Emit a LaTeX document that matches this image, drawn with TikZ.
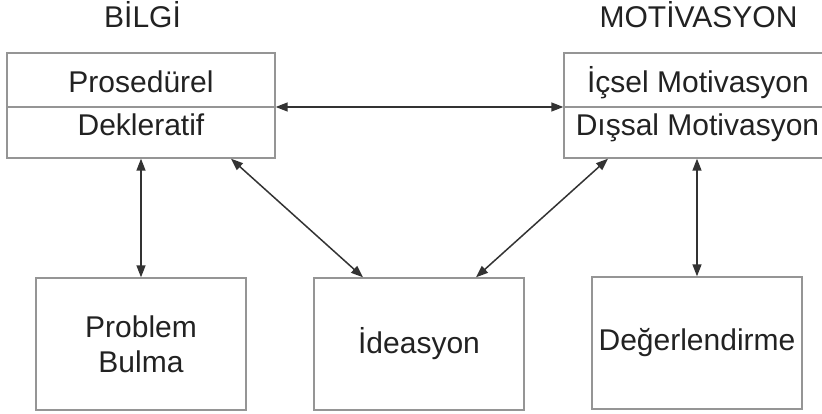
\documentclass[tikz,border=0pt]{standalone}
\usepackage{fontspec}
\setmainfont{Liberation Sans}
\usetikzlibrary{arrows.meta}
\definecolor{boxgray}{HTML}{959595}
\definecolor{arrowdark}{HTML}{333333}
\definecolor{textdark}{HTML}{222222}
\tikzset{
  outerbox/.style={draw=boxgray, line width=1.4pt, rectangle, inner sep=0pt},
  txt/.style={text=textdark, font=\fontsize{30}{35}\selectfont, inner sep=0pt},
  conn/.style={draw=arrowdark, line width=1.5pt, {Triangle[length=12pt,width=9pt]}-{Triangle[length=12pt,width=9pt]}},
}
\begin{document}
\begin{tikzpicture}[x=1pt,y=-1pt]
\useasboundingbox (0,0) rectangle (822,414);
\fill[white] (0,0) rectangle (822,414);
% titles
\node[txt, anchor=base] (tbilgi) at (142.5,28) {BİLGİ};
\node[txt, anchor=base] (tmot) at (698.5,28) {MOTİVASYON};
% upper boxes
\node[outerbox, minimum width=268pt, minimum height=105pt] (bilgi) at (141,105.5) {};
\draw[boxgray, line width=1.4pt] (bilgi.west |- 0,107) -- (bilgi.east |- 0,107);
\node[txt, anchor=base] (pro) at (141,93) {Prosedürel};
\node[txt, anchor=base] (dek) at (141,136) {Dekleratif};
\node[outerbox, minimum width=259.5pt, minimum height=105pt] (mot) at (693.75,105.5) {};
\draw[boxgray, line width=1.4pt] (mot.west |- 0,107) -- (mot.east |- 0,107);
\node[txt, anchor=base] (ic) at (698,93) {İçsel Motivasyon};
\node[txt, anchor=base] (dis) at (697.5,136) {Dışsal Motivasyon};
% lower boxes
\node[outerbox, txt, draw=boxgray, inner sep=0pt, minimum width=210pt, minimum height=132pt, align=center] (pb) at (141,344) {Problem\\Bulma};
\node[outerbox, txt, draw=boxgray, inner sep=0pt, minimum width=210pt, minimum height=132pt] (ide) at (419,344) {İdeasyon};
\node[outerbox, txt, draw=boxgray, inner sep=0pt, minimum width=210pt, minimum height=132pt] (deg) at (697,343) {Değerlendirme};
% connectors
\draw[conn] ([yshift=-1.5pt]bilgi.east) -- ([yshift=-1.5pt]mot.west);
\draw[conn] (bilgi.south) -- (pb.north);
\draw[conn] ([xshift=90pt]bilgi.south) -- ([xshift=-56pt]ide.north);
\draw[conn] ([xshift=-85.75pt]mot.south) -- ([xshift=57pt]ide.north);
\draw[conn] (deg.north |- mot.south) -- (deg.north);
\end{tikzpicture}
\end{document}
